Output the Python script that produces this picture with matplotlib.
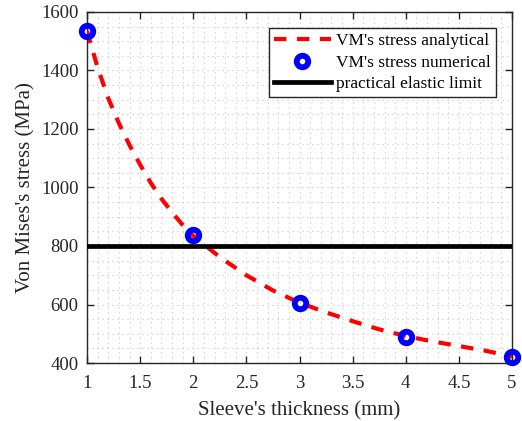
import matplotlib
matplotlib.use("Agg")
import matplotlib.pyplot as plt
from matplotlib.ticker import MultipleLocator

# Data
x_analytical = [1.0, 1.1, 1.2, 1.3, 1.4, 1.5, 1.6, 1.7, 1.8, 1.9, 2.0,
                2.25, 2.5, 2.75, 3.0, 3.25, 3.5, 3.75, 4.0, 4.25, 4.5, 4.75, 5.0]
y_analytical = [1535, 1410, 1305, 1220, 1145, 1078, 1016, 962, 915, 872, 835,
                762, 700, 648, 606, 573, 543, 515, 492, 474, 458, 442, 422]
x_numerical = [1, 2, 3, 4, 5]
y_numerical = [1535, 837, 605, 490, 421]
elastic_limit = 800

x_ticks = [1, 1.5, 2, 2.5, 3, 3.5, 4, 4.5, 5]
x_tick_labels = ["1", "1.5", "2", "2.5", "3", "3.5", "4", "4.5", "5"]
y_ticks = [400, 600, 800, 1000, 1200, 1400, 1600]

plt.rcParams['font.family'] = ['Liberation Serif', 'DejaVu Serif']

dark = '#262626'
fig = plt.figure(figsize=(5.22, 4.21), dpi=100)
ax = fig.add_axes([87/522, 1-363/421, 425/522, 351/421])

ax.plot(x_analytical, y_analytical, color='red', lw=3, linestyle=(0, (3, 2.5)),
        dash_capstyle='butt', label="VM's stress analytical", zorder=3)
ax.plot(x_numerical, y_numerical, linestyle='none', marker='o', ms=8.3, mew=4.2,
        mfc='none', mec='blue', label="VM's stress numerical", zorder=4, clip_on=False)
ax.axhline(elastic_limit, color='black', lw=3.4, label="practical elastic limit", zorder=3)

ax.set_xlim(1, 5)
ax.set_ylim(400, 1600)
ax.set_xticks(x_ticks)
ax.set_xticklabels(x_tick_labels)
ax.set_yticks(y_ticks)
ax.xaxis.set_minor_locator(MultipleLocator(0.1))
ax.yaxis.set_minor_locator(MultipleLocator(50))

ax.grid(True, which='both', linestyle=(0, (1, 3.5)), color='#c4c4c4', lw=0.8)
ax.set_axisbelow(True)

ax.tick_params(which='major', direction='in', length=5, width=1, top=True, right=True,
               colors=dark, labelsize=13.5, pad=6)
ax.tick_params(axis='x', which='major', pad=9)
ax.tick_params(which='minor', length=0, top=True, right=True)
for sp in ax.spines.values():
    sp.set_color(dark)
    sp.set_linewidth(1)

ax.set_xlabel("Sleeve's thickness (mm)", fontsize=15, color=dark, labelpad=6)
ax.set_ylabel("Von Mises's stress (MPa)", fontsize=15, color=dark, labelpad=4)

leg = ax.legend(loc='upper right', bbox_to_anchor=(0.962, 0.9535), borderaxespad=0,
                fontsize=12.5, numpoints=1, handlelength=3.3, handletextpad=0.3,
                labelspacing=0.3, borderpad=0.28, fancybox=False, framealpha=1,
                edgecolor=dark)
leg.get_frame().set_linewidth(1)

fig.savefig("out.png", dpi=100)
